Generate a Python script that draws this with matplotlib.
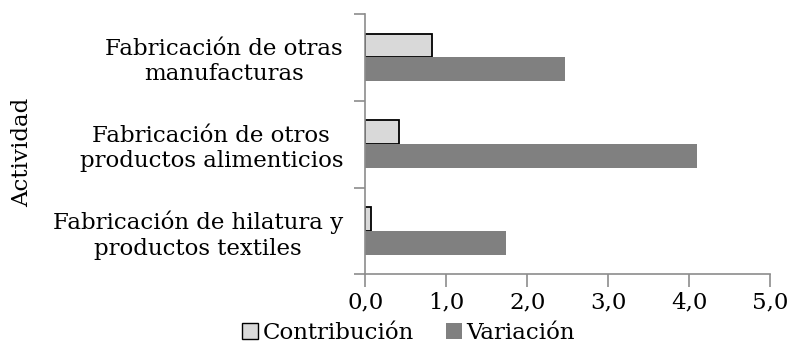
import matplotlib.pyplot as plt
import numpy as np
from matplotlib.ticker import FuncFormatter
from matplotlib.patches import Patch

# Data
actividades = ['Fabricación de hilatura y\nproductos textiles',
               'Fabricación de otros\nproductos alimenticios',
               'Fabricación de otras\nmanufacturas']
contribucion = [0.07, 0.42, 0.82]
variacion = [1.74, 4.10, 2.47]

plt.rcParams['font.family'] = 'DejaVu Serif'
axis_gray = '#8c8c8c'
fs = 16.5

fig = plt.figure(figsize=(7.93, 3.43), dpi=100)
ax = fig.add_axes([0.4606, 0.2003, 0.5105, 0.7588])

y = np.arange(len(actividades))
h = 0.275
ax.barh(y + h / 2, contribucion, height=h, color='#d9d9d9',
        edgecolor='black', linewidth=1.3)
ax.barh(y - h / 2, variacion, height=h, color='#808080', edgecolor='none')

ax.set_xlim(0, 5)
ax.set_ylim(-0.5, 2.5)
ax.set_xticks(np.arange(0, 6, 1))
ax.xaxis.set_major_formatter(FuncFormatter(lambda v, p: f'{v:.1f}'.replace('.', ',')))

# category boundaries as ticks, labels in between
ax.set_yticks([-0.5, 0.5, 1.5, 2.5])
ax.set_yticklabels([])
ax.set_yticks(y, minor=True)
ax.set_yticklabels(actividades, minor=True, ha='right', ma='center', fontsize=fs)
ax.tick_params(axis='y', which='minor', length=0, pad=16)
ax.tick_params(axis='y', which='major', length=8, color=axis_gray, width=1.2)
ax.tick_params(axis='x', length=9, color=axis_gray, width=1.2, labelsize=fs, pad=3)

for s in ['top', 'right']:
    ax.spines[s].set_visible(False)
for s in ['left', 'bottom']:
    ax.spines[s].set_color(axis_gray)
    ax.spines[s].set_linewidth(1.2)

fig.text(0.028, 0.555, 'Actividad', rotation=90, ha='center', va='center', fontsize=fs)

handles = [Patch(facecolor='#d9d9d9', edgecolor='black', linewidth=1.0),
           Patch(facecolor='#808080', edgecolor='none')]
fig.legend(handles, ['Contribución', 'Variación'], ncol=2, frameon=False,
           loc='center', bbox_to_anchor=(0.515, 0.028), fontsize=fs,
           handlelength=0.7, handleheight=0.7, handletextpad=0.2,
           columnspacing=1.4, borderpad=0, borderaxespad=0)

plt.savefig('out.png', dpi=100)
